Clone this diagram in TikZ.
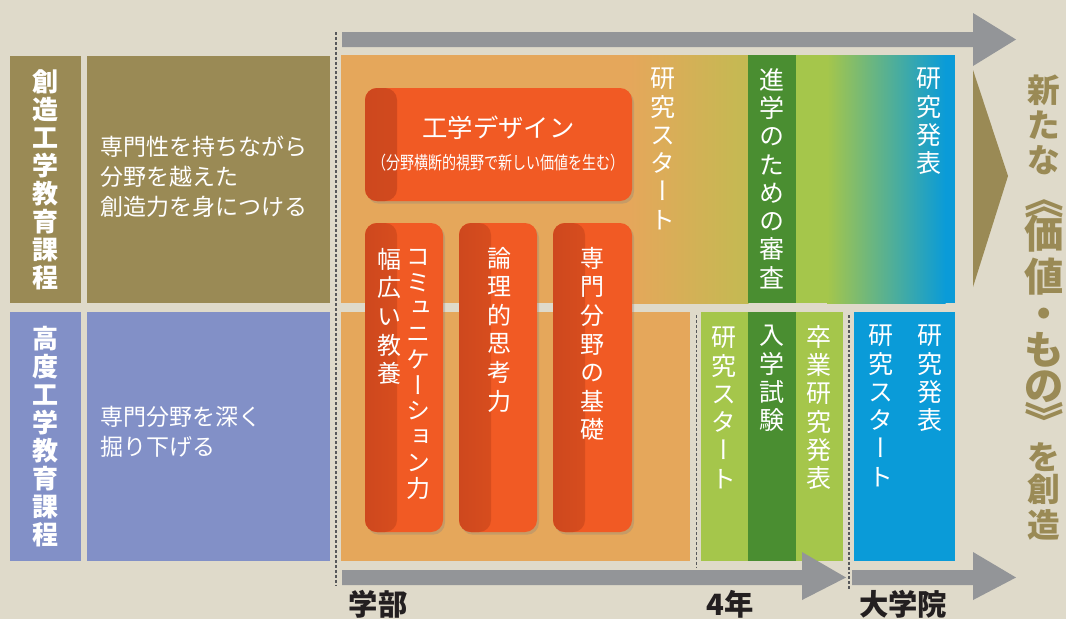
\documentclass[tikz,border=0pt]{standalone}
\usepackage{fontspec}
\newfontfamily\jp{Noto Sans CJK JP}
\newfontfamily\jpv[RawFeature=+vert]{Noto Sans CJK JP}
\newfontfamily\jpnarrow[FakeStretch=0.78]{Noto Sans CJK JP}
\usepackage{tikz}
\usetikzlibrary{positioning,fit,shadows}
\lineskiplimit=-\maxdimen

\definecolor{bgbeige}{HTML}{DFDACA}
\definecolor{sozoolive}{HTML}{9A8A55}
\definecolor{kodoblue}{HTML}{8290C7}
\definecolor{orangearea}{HTML}{E5A75B}
\definecolor{mustard}{HTML}{C3BA52}
\definecolor{deepgreen}{HTML}{4A8E31}
\definecolor{leafgreen}{HTML}{A5C64B}
\definecolor{bluegreen}{HTML}{72B38C}
\definecolor{skyblue}{HTML}{0A9BD8}
\definecolor{boxmid}{HTML}{E4541F}
\definecolor{boxdark}{HTML}{CE481E}
\definecolor{boxorange}{HTML}{F15A24}
\definecolor{arrowgray}{HTML}{939598}
\definecolor{dotgray}{HTML}{58595B}
\definecolor{ink}{HTML}{231F20}

\tikzset{
  every node/.style={inner sep=0pt},
  area/.style={fill=#1, draw=none},
  kadai/.style={fill=boxorange, rounded corners=9pt,
    drop shadow={opacity=0.3, shadow xshift=1.5pt, shadow yshift=-2pt},
    path picture={\shade[left color=boxdark, right color=boxmid]
      (path picture bounding box.south west) rectangle ([xshift=24pt]path picture bounding box.north west);}},
  tate/.style={text=white, align=center, anchor=north, font=\jpv\fontsize{18.75}{21.2}\selectfont},
  tatebox/.style={tate, font=\jpv\fontsize{18}{21.4}\selectfont},
  midashi/.style={text=white, align=center, font=\jpv\bfseries\fontsize{19.5}{21}\selectfont},
  yoko/.style={text=white, align=left, anchor=north west, font=\jp\fontsize{17.25}{22.5}\selectfont},
  nen/.style={text=ink, font=\jp\bfseries\fontsize{22}{24}\selectfont},
  migi/.style={text=sozoolive},
  kakko/.style={migi, rotate=-90, font=\jp\bfseries\fontsize{29.5}{29.5}\selectfont},
  sepline/.style={draw=dotgray, line width=1.3pt, dash pattern=on 2.2pt off 1.5pt},
}

\begin{document}
\begin{tikzpicture}[x=0.75pt,y=-0.75pt]
\useasboundingbox (0,0) rectangle (1066,619);
\fill[bgbeige] (0,0) rectangle (1066,619);

% course labels
\node[area=sozoolive, fit={(10,56) (81,303)}] (sozo) {};
\node[area=sozoolive, fit={(87,56) (330,303)}] (sozotext) {};
\node[area=kodoblue, fit={(10,312) (81,561)}] (kodo) {};
\node[area=kodoblue, fit={(87,312) (330,561)}] (kodotext) {};
\node[midashi] (sozolbl) at (sozo) {創\\造\\工\\学\\教\\育\\課\\程};
\node[midashi] (kodolbl) at (kodo) {高\\度\\工\\学\\教\\育\\課\\程};
\node[yoko] (sozodesc) at (100,136) {専門性を持ちながら\\分野を越えた\\創造力を身につける};
\node[yoko] (kododesc) at (100,406) {専門分野を深く\\掘り下げる};

% upper band
\fill[orangearea] (341,55) rectangle (630.5,303);
\shade[left color=orangearea, right color=mustard] (630,55) rectangle (748.5,303);
\fill[deepgreen] (748,55) rectangle (796.5,303);
\fill[leafgreen] (796,55) rectangle (827.5,303);
\shade[left color=leafgreen, middle color=bluegreen, right color=skyblue] (827,55) rectangle (945.5,303);
\fill[skyblue] (945,55) rectangle (955,303);

% lower band
\node[area=orangearea, fit={(341,312) (690,561)}] (gakubu) {};
\node[area=leafgreen, fit={(701,312) (748,561)}] (start4) {};
\node[area=deepgreen, fit={(748,312) (796,561)}] (nyushi) {};
\node[area=leafgreen, fit={(796,312) (843,561)}] (sotsugyo) {};
\node[area=skyblue, fit={(854,312) (955,561)}] (daigakuin) {};

% skill boxes
\node[kadai, fit={(365,88) (632,201)}] (design) {};
\node[kadai, fit={(365,223) (443,532)}] (comm) {};
\node[kadai, fit={(459,223) (537,532)}] (ronri) {};
\node[kadai, fit={(553,223) (632,532)}] (kiso) {};
\node[text=white, font=\jp\fontsize{19}{20}\selectfont] (designtitle) at (498.5,128) {工学デザイン};
\node[text=white, font=\jpnarrow\fontsize{13.5}{14}\selectfont] (designsub) at (498.5,163) {（分野横断的視野で新しい価値を生む）};
\node[tatebox, font=\jpv\fontsize{18}{19.3}\selectfont] (commtxt) at (418,249) {コ\\ミ\\ュ\\ニ\\ケ\\ー\\シ\\ョ\\ン\\力};
\node[tatebox] (kyoyo) at (389,248) {幅\\広\\い\\教\\養};
\node[tatebox] (ronritxt) at (499,247) {論\\理\\的\\思\\考\\力};
\node[tatebox] (kisotxt) at (592,247) {専\\門\\分\\野\\の\\基\\礎};

% milestones
\node[tate] (upstart) at (663,68) {研\\究\\ス\\タ\\ー\\ト};
\node[tate] (shingaku) at (772,68) {進\\学\\の\\た\\め\\の\\審\\査};
\node[tate] (uphappyo) at (929,68) {研\\究\\発\\表};
\node[tate] (lostart) at (724,327) {研\\究\\ス\\タ\\ー\\ト};
\node[tate] (shiken) at (772,325) {入\\学\\試\\験};
\node[tate] (sotsuken) at (819,325) {卒\\業\\研\\究\\発\\表};
\node[tate] (dstart) at (881,325) {研\\究\\ス\\タ\\ー\\ト};
\node[tate] (dhappyo) at (930,325) {研\\究\\発\\表};

% time arrows
\fill[arrowgray] (342,32) -- (973,32) -- (973,13) -- (1016,39.5) -- (973,66) -- (973,47) -- (342,47) -- cycle;
\fill[arrowgray] (342,570) -- (802,570) -- (802,552) -- (846,577.5) -- (802,600) -- (802,585) -- (342,585) -- cycle;
\fill[arrowgray] (852,570) -- (973,570) -- (973,552) -- (1016,577.5) -- (973,600) -- (973,585) -- (852,585) -- cycle;
\draw[sepline] (336,32) -- (336,585);
\draw[sepline] (696.5,315) -- (696.5,567);
\draw[sepline] (849,315) -- (849,590);

\node[nen] (gakubulbl) at (378,604) {学部};
\node[nen] (yonen) at (730,604) {4年};
\node[nen] (inlbl) at (903,604) {大学院};

% outcome
\fill[sozoolive] (973,70) -- (1008,176) -- (973,287) -- cycle;
\foreach \ch/\yy/\sz in {新/90/24.5, た/125/24.5, な/160/24.5, 価/234/29.5, 値/277/29.5, ・/318/29.5,
    も/350/29.5, の/387/29.5, を/457/24.5, 創/489/24.5, 造/525/24.5}
  \node[migi, font=\jp\bfseries\fontsize{\sz}{\sz}\selectfont] (sozo\yy) at (1044,\yy) {\ch};
\node[kakko] (kakkoL) at (1044,199) {《};
\node[kakko] (kakkoR) at (1044,421) {》};
\end{tikzpicture}
\end{document}
